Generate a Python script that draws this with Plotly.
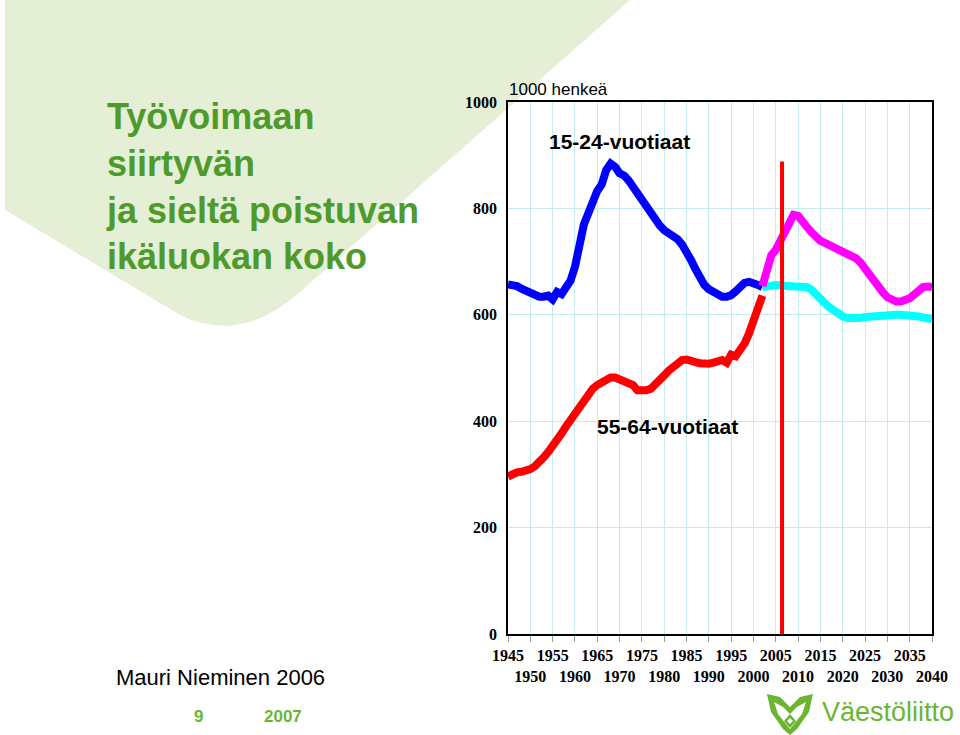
import plotly.graph_objects as go

# 15-24-vuotiaat, toteutunut
young_years = list(range(1945, 2003))
young_vals = [657, 657, 654, 649, 645, 640, 635, 634, 634, 636,
              629, 643, 639, 650, 664, 690, 735, 770, 791, 815,
              833, 845, 872, 884, 878, 866, 862, 853, 840, 828,
              817, 803, 790, 778, 768, 759, 753, 749, 742, 732,
              720, 703, 686, 668, 656, 648, 642, 637, 634, 634,
              637, 644, 654, 660, 662, 660, 656, 652]

# 55-64-vuotiaat, toteutunut
old_years = list(range(1945, 2003))
old_vals = [296, 302, 304, 305, 307, 310, 315, 322, 332, 342,
            352, 365, 377, 390, 402, 415, 427, 439, 451, 461,
            468, 474, 479, 482, 482, 479, 475, 472, 468, 458,
            457, 458, 461, 468, 477, 486, 495, 503, 512, 515,
            516, 515, 511, 509, 508, 508, 510, 512, 515, 510,
            525, 522, 534, 546, 565, 590, 620, 636]

# ennusteet
proj_years = list(range(2002, 2041))
old_proj = [654, 685, 712, 722, 740, 760, 777, 788, 786, 778,
            765, 755, 745, 739, 735, 731, 727, 723, 719, 715,
            712, 706, 698, 686, 672, 661, 650, 642, 633, 628,
            625, 625, 627, 631, 638, 646, 652, 653, 652]
young_proj = [652, 654, 656, 656, 655, 655, 654, 654, 654, 653,
              652, 647, 640, 631, 622, 614, 607, 601, 597, 594,
              593, 593, 594, 596, 597, 598, 599, 600, 600, 600,
              600, 600, 600, 599, 598, 597, 595, 593, 592]

now_x = [2006.4, 2006.4]
now_y = [0, 888]

tick_years = list(range(1945, 2041, 5))
tick_text = [str(y) if i % 2 == 0 else "<br>" + str(y) for i, y in enumerate(tick_years)]
y_ticks = [0, 200, 400, 600, 800, 1000]

GREEN = "#4e9a2b"
LOGO = "#6cb530"
SERIF = "Liberation Serif, Times New Roman, serif"
SANS = "Liberation Sans, Arial, sans-serif"

L, R, T, B = 508, 932, 102, 634


def px(x):
    return (x - L) / (R - L)


def py(y):
    return (B - y) / (B - T)


def path(pts):
    return "M " + " L ".join(f"{px(x):.4f},{py(y):.4f}" for x, y in pts) + " Z"


def note(text, x, y, size, color="black", bold=False, xanchor="center", **kw):
    return dict(text=text, x=px(x), y=py(y), xref="paper", yref="paper", xanchor=xanchor,
                yanchor="middle", showarrow=False,
                font=dict(family=SANS, size=size, color=color, weight="bold" if bold else "normal"), **kw)


fig = go.Figure()
fig.add_trace(go.Scatter(x=young_years, y=young_vals, mode="lines", line=dict(color="#0000ff", width=8)))
fig.add_trace(go.Scatter(x=old_years, y=old_vals, mode="lines", line=dict(color="#ff0000", width=8)))
fig.add_trace(go.Scatter(x=proj_years, y=young_proj, mode="lines", line=dict(color="#00ffff", width=8)))
fig.add_trace(go.Scatter(x=proj_years, y=old_proj, mode="lines", line=dict(color="#ff00ff", width=8)))
fig.add_trace(go.Scatter(x=now_x, y=now_y, mode="lines", line=dict(color="#ff0000", width=4)))

# vaaleanvihreä taustakuvio
bg = (f"M {px(5):.4f},{py(0):.4f} L {px(5):.4f},{py(210):.4f} L {px(180):.4f},{py(315):.4f} "
      f"Q {px(240):.4f},{py(345):.4f} {px(300):.4f},{py(292):.4f} L {px(630):.4f},{py(0):.4f} Z")
shapes = [dict(type="path", xref="paper", yref="paper", path=bg, fillcolor="#e4efd6",
               line=dict(width=0), layer="below")]

# Väestöliitto-merkki
shapes.append(dict(type="path", xref="paper", yref="paper", fillcolor=LOGO, line=dict(width=0),
                   path=path([(767, 694), (780, 697), (790, 707), (800, 697), (813, 694), (809, 712),
                              (797, 729), (790, 735), (783, 729), (771, 712)])))
shapes.append(dict(type="path", xref="paper", yref="paper", fillcolor="white", line=dict(width=0),
                   path=path([(774, 702), (783, 707), (790, 714), (797, 707), (806, 702), (802, 714),
                              (790, 729), (778, 714)])))
shapes.append(dict(type="path", xref="paper", yref="paper", fillcolor=LOGO, line=dict(width=0),
                   path=path([(790, 714), (796, 721), (790, 728), (784, 721)])))
shapes.append(dict(type="path", xref="paper", yref="paper", fillcolor="white", line=dict(width=0),
                   path=path([(790, 718), (793, 721), (790, 724), (787, 721)])))

annotations = [
    note("Työvoimaan<br>siirtyvän<br>ja sieltä poistuvan<br>ikäluokan koko", 104, 186, 36,
         color=GREEN, bold=True, xanchor="left", align="left"),
    note("1000 henkeä", 507, 89, 17, xanchor="left"),
    note("15-24-vuotiaat", 619, 141, 21, bold=True),
    note("55-64-vuotiaat", 667, 426, 21, bold=True),
    note("Mauri Nieminen 2006", 114, 677, 22, xanchor="left"),
    note("9", 198, 716, 17, color=LOGO, bold=True),
    note("2007", 283, 716, 17, color=LOGO, bold=True),
    note("Väestöliitto", 820, 712, 27, color=LOGO, xanchor="left"),
]

fig.update_layout(
    width=960, height=735, margin=dict(l=L, r=960 - R, t=T, b=735 - B),
    paper_bgcolor="white", plot_bgcolor="rgba(0,0,0,0)", showlegend=False,
    shapes=shapes, annotations=annotations,
)
fig.update_xaxes(range=[1945, 2040], tickvals=tick_years, ticktext=tick_text, showgrid=True,
                 gridcolor="#c4ebef", gridwidth=1, showline=True, linecolor="black", linewidth=1.5,
                 mirror=True, ticks="outside", ticklen=6, tickcolor="#999999", zeroline=False,
                 tickangle=0, tickfont=dict(family=SERIF, size=16, color="black", weight="bold"))
fig.update_yaxes(range=[0, 1000], tickvals=y_ticks, showgrid=True, gridcolor="#c4ebef", gridwidth=1,
                 showline=True, linecolor="black", linewidth=1.5, mirror=True, ticks="", zeroline=False,
                 ticklabelstandoff=6, tickfont=dict(family=SERIF, size=16, color="black", weight="bold"))

fig.write_html("out.html", config={"displayModeBar": False},
               post_script="document.body.style.margin='0';")
